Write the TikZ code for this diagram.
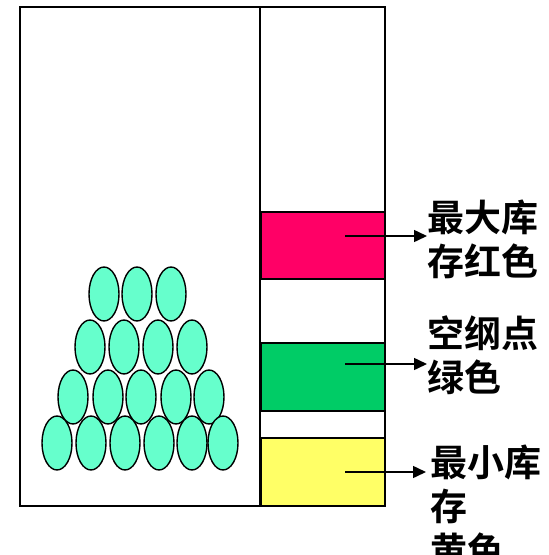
\documentclass[tikz,border=0pt]{standalone}
\usepackage{fontspec}
\newfontfamily\cjk{Noto Sans CJK SC}[BoldFont={Noto Sans CJK SC Bold}]
\usetikzlibrary{arrows.meta}
\definecolor{egg}{HTML}{66FFCC}
\definecolor{maxred}{HTML}{FF0066}
\definecolor{ptgreen}{HTML}{00CC66}
\definecolor{minyellow}{HTML}{FFFF66}
\tikzset{
  frame/.style={draw=black, line width=2pt},
  band/.style={draw=black, line width=1.6pt},
  egg/.style={draw=black, line width=1.4pt, fill=egg},
  pointer/.style={draw=black, line width=1.5pt, -{Triangle[length=13pt,width=12pt]}},
  label/.style={anchor=west, align=left, inner sep=0pt, font=\cjk\bfseries\fontsize{37}{44}\selectfont}
}
\begin{document}
\begin{tikzpicture}[x=1pt,y=-1pt]
\useasboundingbox (0,0) rectangle (549,555);
\fill[white] (0,0) rectangle (549,555);
% frames
\draw[frame] (20,7) rectangle (260,506);
\draw[frame] (260,7) rectangle (385,506);
% bands
\draw[band, fill=maxred] (261,212) rectangle (385,279);
\draw[band, fill=ptgreen] (261,343) rectangle (385,411);
\draw[band, fill=minyellow] (261,438) rectangle (385,506);
% eggs
\foreach \x in {104,137,171} \draw[egg] (\x,294) ellipse (15 and 27);
\foreach \x in {90,124,158,192} \draw[egg] (\x,347) ellipse (15 and 27);
\foreach \x in {73,108,141,176,209} \draw[egg] (\x,397) ellipse (15 and 27);
\foreach \x in {57,91,125,159,192,223} \draw[egg] (\x,443) ellipse (15 and 27);
% labels
\node[label] (tmax) at (427,239) {最大库\\存红色};
\node[label] (tpt) at (427,355) {空纲点\\绿色};
\node[label, anchor=north west] (tmin) at (430,445) {最小库\\存\\黄色};
\coordinate (amax) at (345,236);
\coordinate (apt) at (345,364);
\coordinate (amin) at (345,472);
\draw[pointer] (amax) -- (amax -| tmax.west);
\draw[pointer] (apt) -- (apt -| tpt.west);
\draw[pointer] (amin) -- ([xshift=-4pt]amin -| tmin.west);
\end{tikzpicture}
\end{document}
